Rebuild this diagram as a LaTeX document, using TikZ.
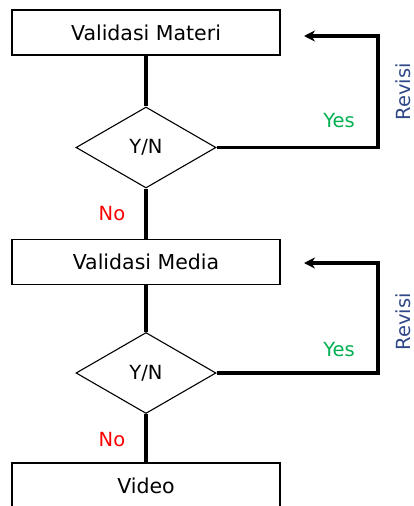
\documentclass[tikz,border=0pt]{standalone}
\usepackage{fontspec}
\setmainfont{DejaVu Sans}
\definecolor{revblue}{RGB}{47,72,135}
\definecolor{yesgreen}{RGB}{0,176,80}
\definecolor{nored}{RGB}{255,0,0}
\usetikzlibrary{arrows.meta,positioning,shapes.geometric}
\tikzset{
  procbox/.style={draw=black, line width=1.6pt, minimum width=268pt, minimum height=45pt, inner sep=0pt, font=\fontsize{20.5}{24}\selectfont},
  decide/.style={diamond, draw=black, line width=1.1pt, minimum width=140pt, minimum height=81pt, inner sep=0pt, font=\fontsize{19.5}{24}\selectfont},
  flow/.style={line width=3.2pt},
  loopback/.style={line width=3.2pt, line join=miter, -{Stealth[length=11pt,width=11pt]}},
  lbl/.style={font=\fontsize{19.5}{24}\selectfont}
}
\begin{document}
\begin{tikzpicture}[x=1pt, y=-1pt]
  \clip (0,0) rectangle (414,506);
  \node[procbox] (mat) at (146,32.5) {Validasi Materi};
  \node[decide] (q1) at (146,147.5) {Y/N};
  \node[procbox] (med) at (146,262) {Validasi Media};
  \node[decide] (q2) at (146,373) {Y/N};
  \node[procbox] (vid) at (146,485.5) {Video};
  \coordinate (r1) at (304,36);
  \coordinate (r2) at (304,263);
  \draw[flow] (mat.south) -- (q1.north);
  \draw[flow] (q1.south) -- (med.north);
  \draw[flow] (med.south) -- (q2.north);
  \draw[flow] (q2.south) -- (vid.north);
  \draw[loopback] (q1.east) -- (378,147.5) |- (r1);
  \draw[loopback] (q2.east) -- (378,373) |- (r2);
  \node[lbl, text=yesgreen] (yes1) at (339,121) {Yes};
  \node[lbl, text=yesgreen] (yes2) at (339,350) {Yes};
  \node[lbl, text=nored] (no1) at (112,214) {No};
  \node[lbl, text=nored] (no2) at (112,440) {No};
  \node[lbl, text=revblue, rotate=90] (rev1) at (403,92) {Revisi};
  \node[lbl, text=revblue, rotate=90] (rev2) at (403,322) {Revisi};
\end{tikzpicture}
\end{document}
